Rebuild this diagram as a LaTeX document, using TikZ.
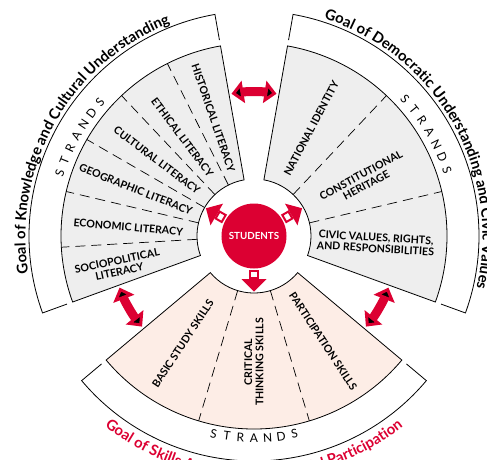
\documentclass[tikz,border=0pt]{standalone}
\usepackage{fontspec}
\setmainfont{Lato}
\usetikzlibrary{arrows.meta,decorations.text}
\definecolor{myred}{RGB}{220,0,50}
\definecolor{secgray}{RGB}{238,238,238}
\definecolor{peach}{RGB}{253,237,230}
\begin{document}
\begin{tikzpicture}[x=1pt,y=1pt,
  sector/.style={draw=black, line width=0.8pt},
  band/.style={draw=black, line width=0.8pt},
  divider/.style={draw=black, line width=0.7pt, dash pattern=on 10pt off 6pt},
  lbl/.style={font=\bfseries\fontsize{10.6}{11.2}\selectfont, align=center, inner sep=0pt},
  strandl/.style={font=\fontsize{12}{12}\selectfont, inner sep=0pt},
  dblarrow/.style={draw=myred, line width=9pt, arrows={Triangle[length=12pt,width=22pt]-Triangle[length=12pt,width=22pt]}},
  studentnode/.style={circle, fill=myred, minimum size=65pt, inner sep=0pt, text=white, font=\bfseries\fontsize{9.8}{10}\selectfont},
]
\useasboundingbox (-254pt,-223pt) rectangle (233pt,236pt);
\clip (-254pt,-223pt) rectangle (233pt,236pt);
\fill[white] (-254pt,-223pt) rectangle (233pt,236pt);

% ---------- sectors ----------
\draw[sector, fill=secgray] (100:57pt) -- (100:193pt) arc[start angle=100, end angle=200, radius=193pt] -- (200:57pt) arc[start angle=200, end angle=100, radius=57pt] -- cycle;
\draw[sector, fill=secgray] (-20:57pt) -- (-20:193pt) arc[start angle=-20, end angle=80, radius=193pt] -- (80:57pt) arc[start angle=80, end angle=-20, radius=57pt] -- cycle;
\draw[sector, fill=peach] (220:57pt) -- (220:193pt) arc[start angle=220, end angle=320, radius=193pt] -- (320:57pt) arc[start angle=320, end angle=220, radius=57pt] -- cycle;

% ---------- outer bands ----------
\draw[band] (100:199pt) -- (100:225pt) arc[start angle=100, end angle=200, radius=225pt] -- (200:199pt);
\draw[band] (-20:199pt) -- (-20:225pt) arc[start angle=-20, end angle=80, radius=225pt] -- (80:199pt);
\draw[band] (220:199pt) -- (220:225pt) arc[start angle=220, end angle=320, radius=225pt] -- (320:199pt);

% ---------- dividers ----------
\foreach \a in {116.667,133.333,150,166.667,183.333}
  \draw[divider] (\a:57pt) -- (\a:193pt);
\foreach \a in {46.667,13.333}
  \draw[divider] (\a:57pt) -- (\a:193pt);
\foreach \a in {253.333,286.667}
  \draw[divider] (\a:57pt) -- (\a:193pt);

% ---------- strand labels ----------
\node[lbl, rotate=-71] (hist) at (109:125pt) {HISTORICAL LITERACY};
\node[lbl, rotate=-53] (eth) at (126:122pt) {ETHICAL LITERACY};
\node[lbl, rotate=-37] (cult) at (142:123pt) {CULTURAL LITERACY};
\node[lbl, rotate=-21.5] (geo) at (158.5:127pt) {GEOGRAPHIC LITERACY};
\node[lbl, rotate=-5] (econ) at (176:126pt) {ECONOMIC LITERACY};
\node[lbl, rotate=12] (socio) at (192.5:139pt) {SOCIOPOLITICAL\\LITERACY};

\node[lbl, rotate=62] (natl) at (62:122pt) {NATIONAL IDENTITY};
\node[lbl, rotate=28] (const) at (27:123pt) {CONSTITUTIONAL\\HERITAGE};
\node[lbl, rotate=-3.3] (civic) at (-3.3:122pt) {CIVIC VALUES, RIGHTS,\\AND RESPONSIBILITIES};

\node[lbl, rotate=56.7] (basic) at (236.5:129pt) {BASIC STUDY SKILLS};
\node[lbl, rotate=90] (crit) at (270:126pt) {CRITICAL\\THINKING SKILLS};
\node[lbl, rotate=-56.7] (part) at (303.3:126pt) {PARTICIPATION SKILLS};

% ---------- STRANDS ----------
\foreach \ch [count=\i from 0] in {S,T,R,A,N,D,S} {
  \pgfmathsetmacro\ang{162.1-\i*3.85}
  \node[strandl, rotate=\ang-90] (sl\i) at (\ang:204pt) {\ch};
}
\foreach \ch [count=\i from 0] in {S,T,R,A,N,D,S} {
  \pgfmathsetmacro\ang{42.3-\i*3.9}
  \node[strandl, rotate=\ang-90] (sr\i) at (\ang:204pt) {\ch};
}
\foreach \ch [count=\i from 0] in {S,T,R,A,N,D,S} {
  \pgfmathsetmacro\ang{258.45+\i*3.85}
  \node[strandl, rotate=\ang+90] (sb\i) at (\ang:202pt) {\ch};
}

% ---------- goal texts ----------
\path[decorate, decoration={text along path, text align=center,
  text={|\bfseries\fontsize{14.8}{14.8}\selectfont|Goal of Knowledge and Cultural Understanding}}]
  (210.4:228.5pt) arc[start angle=210.4, end angle=90.4, radius=228.5pt];
\path[decorate, decoration={text along path, text align=center,
  text={|\bfseries\fontsize{14.8}{14.8}\selectfont|Goal of Democratic Understanding and Civic Values}}]
  (89.5:228.5pt) arc[start angle=89.5, end angle=-30.5, radius=228.5pt];
\path[decorate, decoration={text along path, text align=center, text color=myred,
  text={|\bfseries\fontsize{14.8}{14.8}\selectfont|Goal of Skills Attainment and Social Participation}}]
  (200:242pt) arc[start angle=200, end angle=340, radius=242pt];

% ---------- double arrows ----------
\draw[dblarrow] (81:144pt) arc[start angle=81, end angle=99, radius=144pt];
\draw[dblarrow] (201:144pt) arc[start angle=201, end angle=219, radius=144pt];
\draw[dblarrow] (321:144pt) arc[start angle=321, end angle=339, radius=144pt];

% ---------- center ----------
\node[studentnode] (students) at (0,0) {STUDENTS};
\foreach \a in {150,30,270} {
  \begin{scope}[rotate=\a]
    \filldraw[draw=myred, fill=white, line width=2pt] (35,-4) rectangle (42,4);
    \fill[myred] (43,-12.5) -- (55.5,0) -- (43,12.5) -- cycle;
  \end{scope}
}
\end{tikzpicture}
\end{document}
